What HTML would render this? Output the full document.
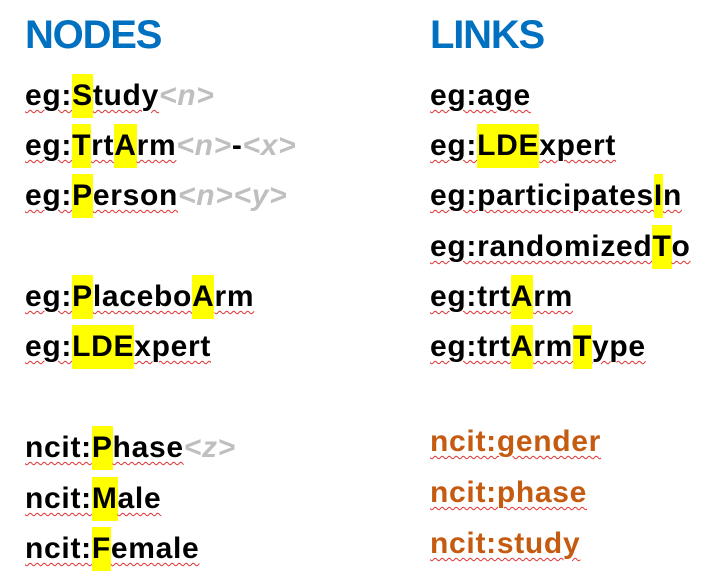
<!DOCTYPE html>
<html><head><meta charset="utf-8"><style>
body{margin:0;width:715px;height:587px;background:#fff;overflow:hidden;position:relative;font-family:"Liberation Sans",sans-serif;font-weight:bold}
.h{position:absolute;color:#0070c0;font-size:40px;top:13px;letter-spacing:-1.2px}
.r{position:absolute;font-size:30px;line-height:44px;white-space:nowrap;color:#000;letter-spacing:0.7px}
.u{text-decoration:underline wavy #e03030;text-decoration-thickness:1px;text-underline-offset:4px}
.y{background:#ffff00;display:inline-block;line-height:44px}
.g{color:#bfbfbf;font-style:italic}
.o{color:#c55a11}
</style></head><body>
<div class="h" style="left:25px">NODES</div>
<div class="h" style="left:430px">LINKS</div>

<div class="r" style="left:25px;top:74px"><span class="u">eg:<span class="y">S</span>tudy</span><span class="g">&lt;n&gt;</span></div>
<div class="r" style="left:25px;top:124px"><span class="u">eg:<span class="y">T</span>rt<span class="y">A</span>rm</span><span class="g">&lt;n&gt;</span>-<span class="g">&lt;x&gt;</span></div>
<div class="r" style="left:25px;top:174px"><span class="u">eg:<span class="y">P</span>erson</span><span class="g">&lt;n&gt;&lt;y&gt;</span></div>
<div class="r" style="left:25px;top:275px"><span class="u">eg:<span class="y">P</span>lacebo<span class="y">A</span>rm</span></div>
<div class="r" style="left:25px;top:325px"><span class="u">eg:<span class="y">LDE</span>xpert</span></div>
<div class="r" style="left:25px;top:426px"><span class="u">ncit:<span class="y">P</span>hase</span><span class="g">&lt;z&gt;</span></div>
<div class="r" style="left:25px;top:477px"><span class="u">ncit:<span class="y">M</span>ale</span></div>
<div class="r" style="left:25px;top:527px"><span class="u">ncit:<span class="y">F</span>emale</span></div>

<div class="r" style="left:430px;top:74px"><span class="u">eg:age</span></div>
<div class="r" style="left:430px;top:124px"><span class="u">eg:<span class="y">LDE</span>xpert</span></div>
<div class="r" style="left:430px;top:174px"><span class="u">eg:participates<span class="y">I</span>n</span></div>
<div class="r" style="left:430px;top:225px"><span class="u">eg:randomized<span class="y">T</span>o</span></div>
<div class="r" style="left:430px;top:275px"><span class="u">eg:trt<span class="y">A</span>rm</span></div>
<div class="r" style="left:430px;top:325px"><span class="u">eg:trt<span class="y">A</span>rm<span class="y">T</span>ype</span></div>
<div class="r o" style="left:430px;top:420px"><span class="u">ncit:gender</span></div>
<div class="r o" style="left:430px;top:471px"><span class="u">ncit:phase</span></div>
<div class="r o" style="left:430px;top:522px"><span class="u">ncit:study</span></div>
</body></html>
